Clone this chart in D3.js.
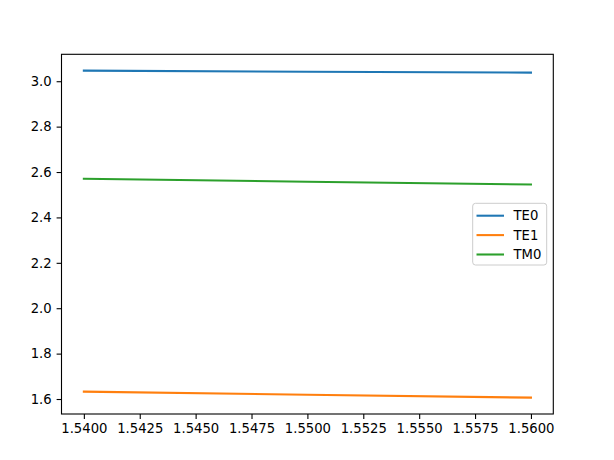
<!DOCTYPE html>
<html><head><meta charset="utf-8">
<script src="https://cdn.jsdelivr.net/npm/d3@7"></script>
<style>body{margin:0;background:#fff}svg{display:block}text{font-family:"DejaVu Sans",sans-serif}</style>
</head><body><svg id="c" width="614" height="460"></svg>
<script>
const xValues = [1.54, 1.55, 1.56];
const te0 = [3.0466, 3.0420, 3.0380];
const te1 = [1.6325, 1.6190, 1.6060];
const tm0 = [2.5700, 2.5575, 2.5450];
const seriesNames = ["TE0", "TE1", "TM0"];
const colors = ["#1f77b4", "#ff7f0e", "#2ca02c"];
const xTicks = [1.54, 1.5425, 1.545, 1.5475, 1.55, 1.5525, 1.555, 1.5575, 1.56];
const yTicks = [1.6, 1.8, 2.0, 2.2, 2.4, 2.6, 2.8, 3.0];

const svg = d3.select("#c");
const L = 61.5, R = 553.3, T = 54.3, B = 414;
const series = [te0, te1, tm0];
const all = series.flat();
const ymin = d3.min(all), ymax = d3.max(all), yp = (ymax - ymin) * 0.05;
const xp = (d3.max(xValues) - d3.min(xValues)) * 0.05;
const x = d3.scaleLinear().domain([d3.min(xValues) - xp, d3.max(xValues) + xp]).range([L, R]);
const y = d3.scaleLinear().domain([ymin - yp, ymax + yp]).range([B, T]);

const line = d3.line().x((d, i) => x(xValues[i])).y(d => y(d));
series.forEach((s, k) => {
  svg.append("path").datum(s).attr("d", line).attr("fill", "none")
    .attr("stroke", colors[k]).attr("stroke-width", 2.08).attr("stroke-linecap", "square");
});

const xa = svg.append("g").attr("transform", `translate(0,${B})`)
  .call(d3.axisBottom(x).tickValues(xTicks).tickFormat(d3.format(".4f")).tickSizeOuter(0).tickSize(4.9).tickPadding(4.9));
const ya = svg.append("g").attr("transform", `translate(${L},0)`)
  .call(d3.axisLeft(y).tickValues(yTicks).tickFormat(d3.format(".1f")).tickSizeOuter(0).tickSize(4.9).tickPadding(4.9));
[xa, ya].forEach(g => {
  g.select(".domain").remove();
  g.selectAll("line").attr("stroke", "#000").attr("stroke-width", 1.1);
  g.selectAll("text").attr("font-size", 13.2).attr("fill", "#000").style("font-family", "DejaVu Sans");
});
svg.append("rect").attr("x", L).attr("y", T).attr("width", R - L).attr("height", B - T)
  .attr("fill", "none").attr("stroke", "#000").attr("stroke-width", 1.1);

const lg = svg.append("g");
lg.append("rect").attr("x", 472.7).attr("y", 203.3).attr("width", 74).attr("height", 61.7)
  .attr("rx", 2.8).attr("fill", "#fff").attr("fill-opacity", 0.8).attr("stroke", "#cccccc").attr("stroke-width", 1);
seriesNames.forEach((n, k) => {
  const yy = 215.7 + k * 19.4;
  lg.append("line").attr("x1", 476.5).attr("x2", 504).attr("y1", yy).attr("y2", yy)
    .attr("stroke", colors[k]).attr("stroke-width", 2.08);
  lg.append("text").attr("x", 513.5).attr("y", yy).attr("dy", "0.36em")
    .attr("font-size", 13.2).attr("fill", "#000").text(n);
});
</script></body></html>
